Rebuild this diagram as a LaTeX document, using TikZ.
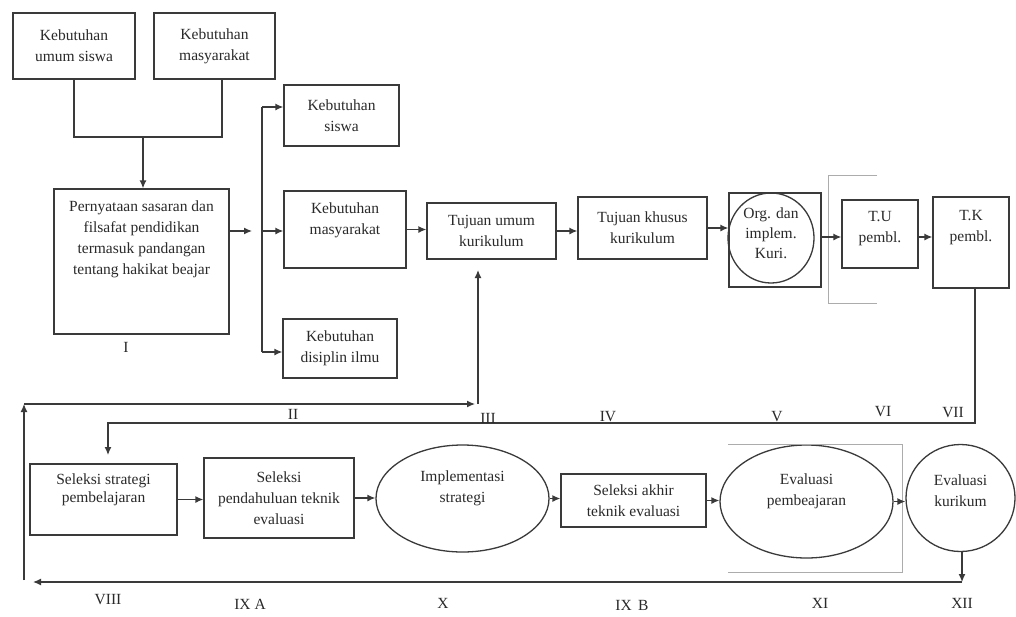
\documentclass[tikz,border=0pt]{standalone}
\usepackage{fontspec}
\setmainfont{Liberation Serif}
\usetikzlibrary{arrows.meta,shapes.geometric}
\definecolor{linec}{HTML}{3A3A3A}
\definecolor{txtc}{HTML}{2A2A2A}
\newcommand{\diafs}{\fontsize{15.5}{21}\selectfont}
\begin{document}
\begin{tikzpicture}[x=1pt,y=-1pt,
  line/.style={draw=linec, line width=1.3pt},
  arr/.style={line, -{Latex[length=8pt,width=7pt]}},
  box/.style={draw=linec, line width=1.3pt, rectangle, inner sep=0pt, align=center, text=txtc, font=\diafs},
  ell/.style={draw=linec, line width=1.3pt, ellipse, inner sep=0pt, align=center, text=txtc, font=\diafs},
  lbl/.style={text=txtc, font=\diafs, inner sep=0pt, align=center},
  brk/.style={draw=gray!65, line width=0.8pt}]
\fill[white] (0,0) rectangle (1016,616);
\useasboundingbox (0,0) rectangle (1016,616);

% top-left boxes
\node[box, minimum width=122pt, minimum height=66pt] (kus) at (74,46) {Kebutuhan\\umum siswa};
\node[box, minimum width=121pt, minimum height=66pt] (km) at (214.5,46) {Kebutuhan\\masyarakat};
\node[box, minimum width=175pt, minimum height=145pt] (pern) at (141.5,261.5) {};
\node[lbl] (pernt) at (141.5,239.5) {Pernyataan sasaran dan\\filsafat pendidikan\\termasuk pandangan\\tentang hakikat beajar};

% needs
\node[box, minimum width=115pt, minimum height=61pt] (ks) at (341.5,115.5) {Kebutuhan\\siswa};
\node[box, minimum width=122pt, minimum height=77pt] (kmas) at (345,229.5) {};
\node[lbl] (kmast) at (345,220) {Kebutuhan\\masyarakat};
\node[box, minimum width=114pt, minimum height=59pt] (kdi) at (340,348.5) {Kebutuhan\\disiplin ilmu};

% top row
\node[box, minimum width=129pt, minimum height=56pt] (tuk) at (491.5,231) {Tujuan umum\\kurikulum};
\node[box, minimum width=129pt, minimum height=62pt] (tkh) at (642.5,228) {Tujuan khusus\\kurikulum};
\node[box, minimum width=92pt, minimum height=94pt] (org) at (775,240) {};
\node[ell, minimum width=86pt, minimum height=90pt] (orgc) at (771,238) {};
\node[lbl, font=\fontsize{15.5}{20}\selectfont] (orgt) at (771,233) {Org. dan\\implem.\\Kuri.};
\node[box, minimum width=76pt, minimum height=68pt] (tu) at (880,234) {};
\node[lbl] (tut) at (880,229) {T.U\\pembl.};
\node[box, minimum width=76pt, minimum height=91pt] (tk) at (971,242.5) {};
\node[lbl] (tkt) at (971,228) {T.K\\pembl.};

% bottom row
\node[box, minimum width=147pt, minimum height=71pt] (ss) at (103.5,499.5) {};
\node[lbl, font=\fontsize{15.5}{18}\selectfont] (sst) at (103.5,490) {Seleksi strategi\\pembelajaran};
\node[box, minimum width=150pt, minimum height=80pt] (sp) at (279,498) {Seleksi\\pendahuluan teknik\\evaluasi};
\node[ell, minimum width=173pt, minimum height=107pt] (is) at (462.5,498.5) {};
\node[lbl] (ist) at (462.5,488) {Implementasi\\strategi};
\node[box, minimum width=145pt, minimum height=53pt] (sa) at (633.5,500.5) {Seleksi akhir\\teknik evaluasi};
\node[ell, minimum width=173pt, minimum height=113pt] (ep) at (806.5,501.5) {};
\node[lbl] (ept) at (806.5,491) {Evaluasi\\pembeajaran};
\node[ell, minimum width=109pt, minimum height=107pt] (ek) at (960.5,498) {};
\node[lbl] (ekt) at (960.5,491) {Evaluasi\\kurikum};

% brackets
\draw[brk] (877,175) -- (828,175) -- (828,303) -- (877,303);
\draw[brk] (728,444) -- (902,444) -- (902,572) -- (728,572);

% connectors top
\coordinate (j1) at (143,137);
\draw[line] (kus.south) |- (j1) -| ([xshift=7.5pt]km.south);
\draw[arr] (j1) -- (j1 |- pern.north);
\coordinate (pa) at (252,231);
\draw[arr] (pern.east |- pa) -- (pa);
\coordinate (bt) at (262,107);
\coordinate (bm) at (262,231);
\coordinate (bb) at (262,352);
\draw[line] (bt) -- (bb);
\draw[arr] (bt) -- (bt -| ks.west);
\draw[arr] (bm) -- (bm -| kmas.west);
\draw[arr] (bb) -- (bb -| kdi.west);
\draw[arr] (kmas.east) -- (kmas.east -| tuk.west);
\draw[arr] (tuk.east) -- (tuk.east -| tkh.west);
\draw[arr] (tkh.east) -- (tkh.east -| org.west);
\coordinate (r1) at (0,237);
\draw[arr] (org.east |- r1) -- (tu.west |- r1);
\draw[arr] (tu.east |- r1) -- (tk.west |- r1);

% feedback VII -> VIII
\coordinate (v1) at (975,423);
\coordinate (v2) at (108,423);
\coordinate (v3) at (108,455);
\draw[arr] (tk.south -| v1) -- (v1) -- (v2) -- (v3);

% bottom row connectors
\draw[arr] (ss.east) -- (ss.east -| sp.west);
\draw[arr] (sp.east) -- (sp.east -| is.west);
\draw[arr] (is.east) -- (is.east -| sa.west);
\draw[arr] (sa.east) -- (sa.east -| ep.west);
\draw[arr] (ep.east) -- (ep.east -| ek.west);

% return loop
\coordinate (c1) at (962,582);
\coordinate (c2) at (33,582);
\coordinate (c3) at (24,580);
\coordinate (c4) at (24,404);
\coordinate (c5) at (475,404);
\coordinate (c6) at (478,404);
\coordinate (c7) at (478,270);
\draw[arr] (ek.south -| c1) -- (c1);
\draw[arr] (c1) -- (c2);
\draw[arr] (c3) -- (c4);
\draw[arr] (c4) -- (c5);
\draw[arr] (c6) -- (c7);

% roman labels
\node[lbl] (l1) at (126,347) {I};
\node[lbl] (l2) at (293,414) {II};
\node[lbl] (l3) at (488,418) {III};
\node[lbl] (l4) at (608,417) {IV};
\node[lbl] (l5) at (777,417) {V};
\node[lbl] (l6) at (883,412) {VI};
\node[lbl] (l7) at (953,413) {VII};
\node[lbl] (l8) at (108,600) {VIII};
\node[lbl] (l9) at (250,604) {IX A};
\node[lbl] (l10) at (443,603) {X};
\node[lbl] (l11) at (632,605) {IX\, B};
\node[lbl] (l12) at (820,603) {XI};
\node[lbl] (l13) at (962,603) {XII};
\end{tikzpicture}
\end{document}
